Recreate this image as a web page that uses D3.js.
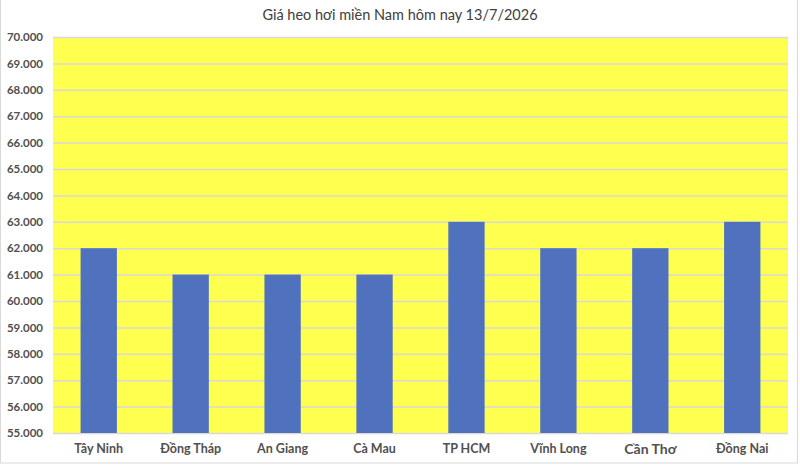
<!DOCTYPE html>
<html><head><meta charset="utf-8">
<script src="https://cdn.jsdelivr.net/npm/d3@7"></script>
<style>body{margin:0;background:#fff}svg{display:block}</style>
</head><body>
<svg id="c" width="800" height="467"></svg>
<script>
const categories = ["Tây Ninh","Đồng Tháp","An Giang","Cà Mau","TP HCM","Vĩnh Long","Cần Thơ","Đồng Nai"];
const values = [62000,61000,61000,61000,63000,62000,62000,63000];
const yTicks = [55000,56000,57000,58000,59000,60000,61000,62000,63000,64000,65000,66000,67000,68000,69000,70000];
const title = "Giá heo hơi miền Nam hôm nay 13/7/2026";

const svg = d3.select("#c");
const W=800,H=467;
const m={l:53,r:12,t:37,b:34};
const x=d3.scaleBand().domain(categories).range([m.l,W-m.r]).paddingInner(0.605).paddingOuter(0.3);
const y=d3.scaleLinear().domain([55000,70000]).range([H-m.b,m.t]);
const tickFmt=d=>(d/1000).toFixed(0)+".000";

// frame
svg.append("rect").attr("x",0.5).attr("y",-2).attr("width",W-3).attr("height",H-2).attr("fill","#fff").attr("stroke","#d9d9d9");

svg.append("rect").attr("x",m.l).attr("y",m.t).attr("width",W-m.r-m.l).attr("height",H-m.b-m.t).attr("fill","#ffff50");

const ga=svg.append("g").attr("transform",`translate(${m.l},0)`)
 .call(d3.axisLeft(y).tickValues(yTicks).tickFormat(tickFmt).tickSize(-(W-m.r-m.l)).tickPadding(10));
ga.select(".domain").remove();
ga.selectAll(".tick line").attr("stroke","#d9d9d9").attr("stroke-width",1.5);
ga.selectAll(".tick text").attr("fill","#505050").attr("font-family","Lato, 'Open Sans', sans-serif").attr("font-weight","bold").attr("font-size","11.5px");

svg.append("g").selectAll("rect").data(values).join("rect")
 .attr("x",(d,i)=>x(categories[i])).attr("width",x.bandwidth())
 .attr("y",d=>y(d)).attr("height",d=>y(55000)-y(d)).attr("fill","#4f71be");

const gx=svg.append("g").attr("transform",`translate(0,${H-m.b})`)
 .call(d3.axisBottom(x).tickSize(0).tickPadding(11));
gx.select(".domain").remove();
gx.selectAll(".tick text").attr("fill","#505050").attr("font-family","Lato, 'Open Sans', sans-serif").attr("font-weight","bold")
 .attr("font-size",d=>d==="Cần Thơ"?"14px":"12.5px");

svg.append("text").attr("x",400).attr("y",20).attr("text-anchor","middle")
 .attr("fill","#404040").attr("font-family","Lato, 'Open Sans', sans-serif").attr("font-size","14.5px").text(title);
</script>
</body></html>
